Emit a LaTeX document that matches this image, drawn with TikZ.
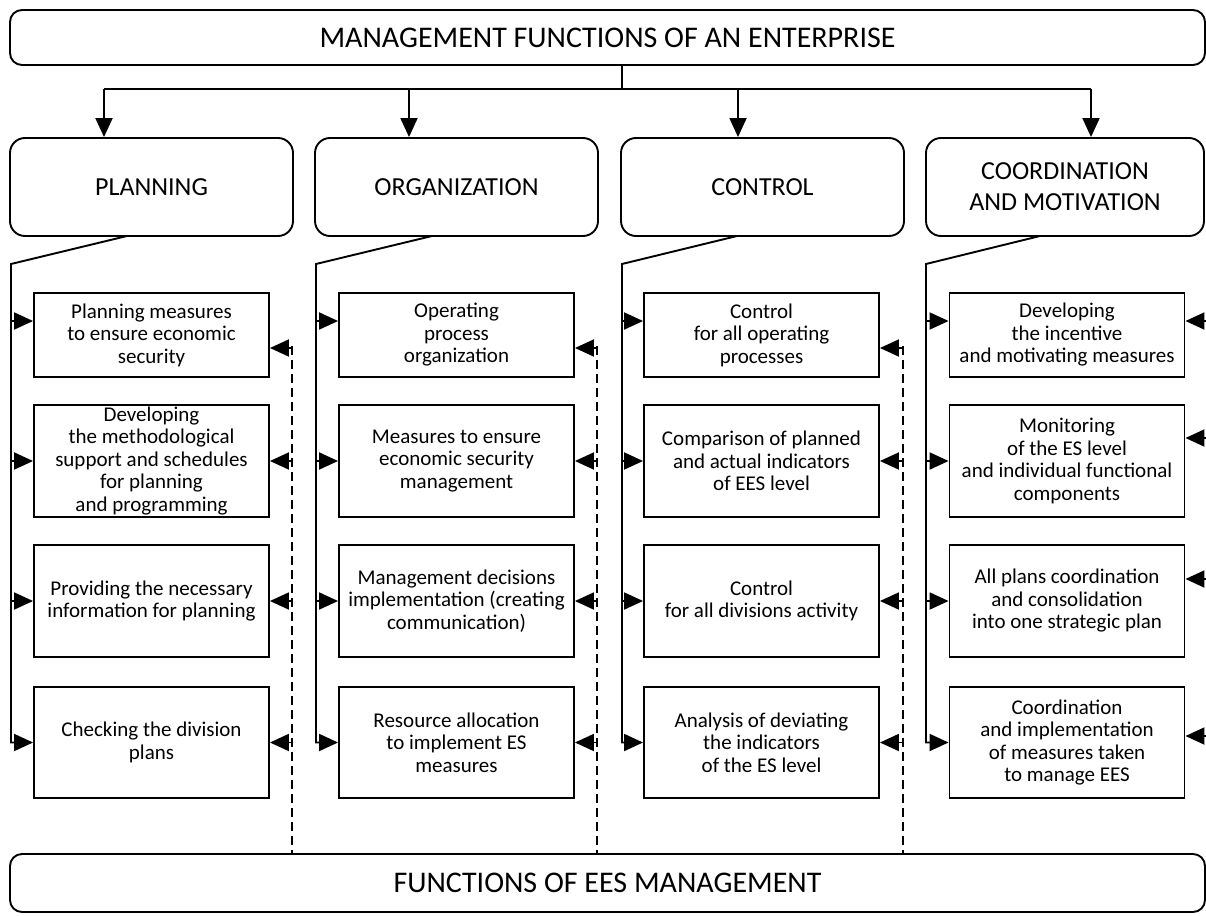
\documentclass[tikz,border=0pt]{standalone}
\usepackage{fontspec}
\setmainfont{Carlito}
\usetikzlibrary{arrows.meta}
\tikzset{
  ln/.style={line width=1.9pt},
  arr/.style={line width=1.9pt, -{Triangle[length=19pt,width=17pt]}},
  bigbox/.style={draw, line width=1.9pt, rounded corners=12pt, minimum width=1195pt, inner sep=0pt, font=\fontsize{30}{36}\selectfont},
  headbox/.style={draw, line width=1.9pt, rounded corners=15pt, minimum height=98pt, inner sep=0pt, align=center, font=\fontsize{26}{31}\selectfont},
  itembox/.style={draw, line width=1.9pt, minimum width=235pt, inner sep=0pt, align=center, font=\fontsize{21}{22.5}\selectfont},
  fb/.style={line width=1.7pt, dash pattern=on 9pt off 5pt},
}
\begin{document}
\begin{tikzpicture}[x=1pt,y=-1pt]
\useasboundingbox (0,0) rectangle (1206,915);
% top and bottom
\node[bigbox, minimum height=55pt] (top) at (607.5,37.5) {MANAGEMENT FUNCTIONS OF AN ENTERPRISE};
\node[bigbox, minimum height=58pt] (bot) at (607.5,883) {FUNCTIONS OF EES MANAGEMENT};
% headings
\node[headbox, minimum width=283pt] (h1) at (151.5,187) {PLANNING};
\node[headbox, minimum width=283pt] (h2) at (456.5,187) {ORGANIZATION};
\node[headbox, minimum width=283pt] (h3) at (762.5,187) {CONTROL};
\node[headbox, minimum width=278pt] (h4) at (1065,187) {COORDINATION\\AND MOTIVATION};
% column 1
\node[itembox, minimum height=84pt] (b11) at (151.5,335) {Planning measures\\to ensure economic\\security};
\node[itembox, minimum height=112pt] (b12) at (151.5,461) {Developing\\the methodological\\support and schedules\\for planning\\and programming};
\node[itembox, minimum height=112pt] (b13) at (151.5,601) {Providing the necessary\\information for planning};
\node[itembox, minimum height=111pt] (b14) at (151.5,742.5) {Checking the division\\plans};
% column 2
\node[itembox, minimum height=84pt] (b21) at (456.5,335) {Operating\\process\\organization};
\node[itembox, minimum height=112pt] (b22) at (456.5,461) {Measures to ensure\\economic security\\management};
\node[itembox, minimum height=112pt] (b23) at (456.5,601) {Management decisions\\implementation (creating\\communication)};
\node[itembox, minimum height=111pt] (b24) at (456.5,742.5) {Resource allocation\\to implement ES\\measures};
% column 3
\node[itembox, minimum height=84pt] (b31) at (761.5,335) {Control\\for all operating\\processes};
\node[itembox, minimum height=112pt] (b32) at (761.5,461) {Comparison of planned\\and actual indicators\\of EES level};
\node[itembox, minimum height=112pt] (b33) at (761.5,601) {Control\\for all divisions activity};
\node[itembox, minimum height=111pt] (b34) at (761.5,742.5) {Analysis of deviating\\the indicators\\of the ES level};
% column 4
\node[itembox, minimum height=84pt] (b41) at (1067,335) {Developing\\the incentive\\and motivating measures};
\node[itembox, minimum height=112pt] (b42) at (1067,461) {Monitoring\\of the ES level\\and individual functional\\components};
\node[itembox, minimum height=112pt] (b43) at (1067,601) {All plans coordination\\and consolidation\\into one strategic plan};
\node[itembox, minimum height=111pt] (b44) at (1067,742.5) {Coordination\\and implementation\\of measures taken\\to manage EES};

% top distribution
\coordinate (tj) at (622,89);
\coordinate (t1) at (104,89);
\coordinate (t2) at (409,89);
\coordinate (t3) at (738,89);
\coordinate (t4) at (1091,89);
\draw[ln] (top.south -| tj) -- (tj);
\draw[ln] (t1) -- (t4);
\draw[arr] (t1) -- (t1 |- h1.north);
\draw[arr] (t2) -- (t2 |- h2.north);
\draw[arr] (t3) -- (t3 |- h3.north);
\draw[arr] (t4) -- (t4 |- h4.north);

% left feeders
\foreach \c/\sx/\vx in {1/127/11, 2/432/316, 3/737/622, 4/1040/926}{
  \coordinate (a\c) at (\sx,236);
  \coordinate (v\c) at (\vx,264);
  \coordinate (p\c1) at ([yshift=14pt]b\c1.west);
  \draw[arr] (a\c) -- (v\c) -- (v\c |- b\c4.west) -- (b\c4.west);
  \draw[arr] (v\c |- p\c1) -- (p\c1);
  \draw[arr] (v\c |- b\c2.west) -- (b\c2.west);
  \draw[arr] (v\c |- b\c3.west) -- (b\c3.west);
}

% dashed feedback lines
\foreach \c/\dx in {1/292, 2/597, 3/903}{
  \coordinate (d\c) at (\dx,346);
  \coordinate (q\c1) at ([yshift=-13pt]b\c1.east);
  \draw[fb] (d\c) -- (d\c |- bot.north);
  \draw[arr] (d\c |- q\c1) -- (q\c1);
  \draw[arr] (d\c |- b\c2.east) -- (b\c2.east);
  \draw[arr] (d\c |- b\c3.east) -- (b\c3.east);
  \draw[arr] (d\c |- b\c4.east) -- (b\c4.east);
}

% right inputs of column 4
\coordinate (r4) at (1210,0);
\coordinate (q41) at ([yshift=14pt]b41.east);
\coordinate (q42) at ([yshift=23pt]b42.east);
\coordinate (q43) at ([yshift=22pt]b43.east);
\coordinate (q44) at ([yshift=6.5pt]b44.east);
\draw[arr] (r4 |- q41) -- (q41);
\draw[arr] (r4 |- q42) -- (q42);
\draw[arr] (r4 |- q43) -- (q43);
\draw[arr] (r4 |- q44) -- (q44);
\end{tikzpicture}
\end{document}
